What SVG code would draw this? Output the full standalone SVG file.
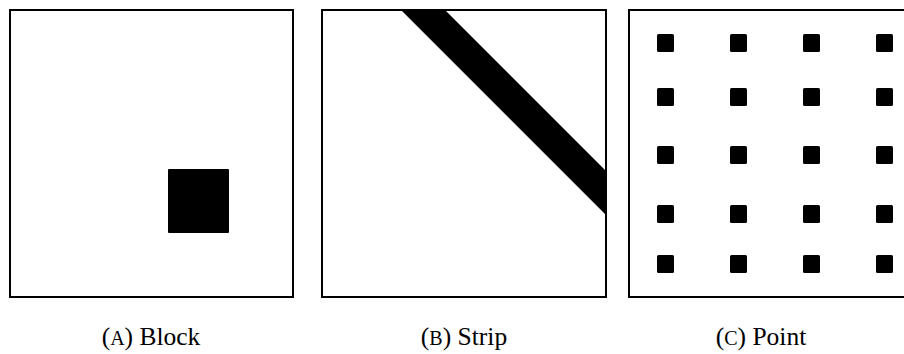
<svg xmlns="http://www.w3.org/2000/svg" width="904" height="354" viewBox="0 0 904 354">
<style>
.frame{fill:none;stroke:#000;stroke-width:2}
.fill{fill:#000}
.dot{fill:#000}
.lbl{font-family:"Liberation Serif","Times New Roman",serif;font-size:25.5px;fill:#000;text-anchor:middle}
.sc{font-size:20px}
</style>
<defs>
<clipPath id="clipB"><rect x="322" y="10" width="284" height="287"/></clipPath>
</defs>
<g id="panelA">
<rect class="frame" x="10" y="10" width="283" height="287"/>
<rect class="fill" x="168" y="169" width="61" height="64" rx="1"/>
<text class="lbl" x="151" y="345">(<tspan class="sc">A</tspan>) Block</text>
</g>
<g id="panelB">
<polygon class="fill" clip-path="url(#clipB)" points="399,8 443,8 608,173 608,217"/>
<rect class="frame" x="322" y="10" width="284" height="287"/>
<text class="lbl" x="464" y="345">(<tspan class="sc">B</tspan>) Strip</text>
</g>
<g id="panelC">
<rect class="frame" x="629" y="10" width="290" height="287"/>
<g id="dots">
<rect class="dot" x="657" y="34" width="17" height="18" rx="1.5"/>
<rect class="dot" x="730" y="34" width="17" height="18" rx="1.5"/>
<rect class="dot" x="803" y="34" width="17" height="18" rx="1.5"/>
<rect class="dot" x="876" y="34" width="17" height="18" rx="1.5"/>
<rect class="dot" x="657" y="88" width="17" height="18" rx="1.5"/>
<rect class="dot" x="730" y="88" width="17" height="18" rx="1.5"/>
<rect class="dot" x="803" y="88" width="17" height="18" rx="1.5"/>
<rect class="dot" x="876" y="88" width="17" height="18" rx="1.5"/>
<rect class="dot" x="657" y="146" width="17" height="18" rx="1.5"/>
<rect class="dot" x="730" y="146" width="17" height="18" rx="1.5"/>
<rect class="dot" x="803" y="146" width="17" height="18" rx="1.5"/>
<rect class="dot" x="876" y="146" width="17" height="18" rx="1.5"/>
<rect class="dot" x="657" y="205" width="17" height="18" rx="1.5"/>
<rect class="dot" x="730" y="205" width="17" height="18" rx="1.5"/>
<rect class="dot" x="803" y="205" width="17" height="18" rx="1.5"/>
<rect class="dot" x="876" y="205" width="17" height="18" rx="1.5"/>
<rect class="dot" x="657" y="255" width="17" height="18" rx="1.5"/>
<rect class="dot" x="730" y="255" width="17" height="18" rx="1.5"/>
<rect class="dot" x="803" y="255" width="17" height="18" rx="1.5"/>
<rect class="dot" x="876" y="255" width="17" height="18" rx="1.5"/>
</g>
<text class="lbl" x="761" y="345">(<tspan class="sc">C</tspan>) Point</text>
</g>
</svg>
